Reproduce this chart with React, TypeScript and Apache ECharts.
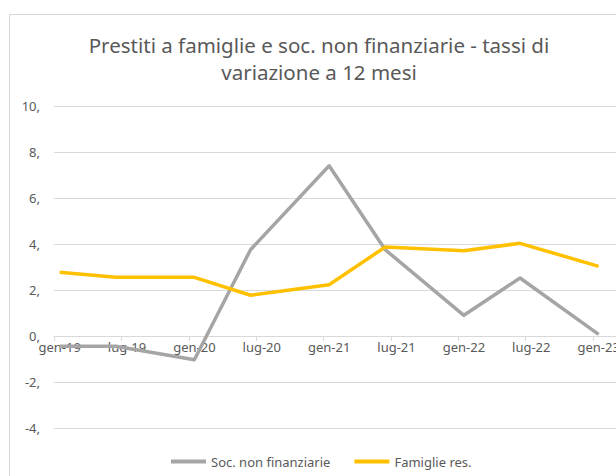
import React, { useEffect, useRef } from "react";
import * as echarts from "echarts";

const monthNames = ["gen", "feb", "mar", "apr", "mag", "giu", "lug", "ago", "set", "ott", "nov", "dic"];
const years = ["19", "20", "21", "22", "23"];
const monthCount = 51; // months shown on the axis, gen-19 .. mar-23

// observation months (index from gen-19)
const obsMonthIndex = [0, 5, 12, 17, 24, 29, 36, 41, 48];
const socNonFinanziarie = [-0.45, -0.45, -1.03, 3.75, 7.4, 3.75, 0.9, 2.52, 0.07];
const famiglieRes = [2.77, 2.55, 2.55, 1.77, 2.23, 3.87, 3.71, 4.03, 3.03];

const yMin = -4;
const yMax = 10;
const yStep = 2;

const titleText = "Prestiti a famiglie e soc. non finanziarie - tassi di\nvariazione a 12 mesi";
const seriesNames = ["Soc. non finanziarie", "Famiglie res."];

export default function App() {
  const ref = useRef<HTMLDivElement>(null);
  useEffect(() => {
    document.body.style.margin = "0";
    document.body.style.overflow = "hidden";
    document.documentElement.style.overflow = "hidden";
    if (!ref.current) return;
    const chart = echarts.init(ref.current, undefined, { renderer: "svg" });

    const categories: string[] = [];
    for (let i = 0; i < monthCount; i++) {
      categories.push(monthNames[i % 12] + "-" + years[Math.floor(i / 12)]);
    }
    const full = (vals: number[]) => {
      const arr: (number | null)[] = new Array(monthCount).fill(null);
      obsMonthIndex.forEach((m, k) => (arr[m] = vals[k]));
      return arr;
    };

    const gridTop = 106;
    const gridHeight = 322;
    const zeroOffset = -(gridHeight * (0 - yMin)) / (yMax - yMin);

    const font = "Noto Sans";
    chart.setOption({
      animation: false,
      backgroundColor: "#ffffff",
      textStyle: { fontFamily: font },
      graphic: [
        {
          type: "rect",
          shape: { x: 9.5, y: 14.5, width: 800, height: 800 },
          style: { fill: "none", stroke: "#d9d9d9", lineWidth: 1 },
          z: -1,
        },
      ],
      title: {
        text: titleText,
        left: 314,
        top: 26,
        textAlign: "center",
        textStyle: {
          fontFamily: font,
          fontSize: 20.5,
          fontWeight: "normal",
          color: "#595959",
          lineHeight: 27,
        },
      },
      legend: {
        left: 166,
        top: 450,
        icon: "rect",
        itemWidth: 35,
        itemHeight: 4,
        itemGap: 24,
        textStyle: { fontFamily: font, fontSize: 13, color: "#595959" },
        data: seriesNames,
      },
      grid: { left: 54, width: 572.7, top: gridTop, height: gridHeight, containLabel: false },
      xAxis: {
        type: "category",
        data: categories,
        boundaryGap: true,
        offset: zeroOffset,
        axisLine: { show: true, onZero: false, lineStyle: { color: "#d9d9d9", width: 1 } },
        axisTick: { show: true, interval: 5, length: 5, lineStyle: { color: "#d9d9d9" } },
        axisLabel: { interval: 5, margin: 4, fontFamily: font, fontSize: 13, color: "#595959" },
        splitLine: { show: false },
      },
      yAxis: {
        type: "value",
        min: yMin,
        max: yMax,
        interval: yStep,
        axisLine: { show: false },
        axisTick: { show: false },
        axisLabel: {
          margin: 14,
          fontFamily: font,
          fontSize: 13,
          color: "#595959",
          formatter: (v: number) => v + ",",
        },
        splitLine: { lineStyle: { color: "#d9d9d9", width: 1 } },
      },
      series: [
        {
          name: seriesNames[0],
          type: "line",
          data: full(socNonFinanziarie),
          connectNulls: true,
          symbol: "none",
          color: "#a5a5a5",
          lineStyle: { color: "#a5a5a5", width: 3.5, join: "round" },
        },
        {
          name: seriesNames[1],
          type: "line",
          data: full(famiglieRes),
          connectNulls: true,
          symbol: "none",
          color: "#ffc000",
          lineStyle: { color: "#ffc000", width: 3.5, join: "round" },
        },
      ],
    });
    return () => chart.dispose();
  }, []);
  return <div ref={ref} style={{ width: 640, height: 476 }} />;
}
